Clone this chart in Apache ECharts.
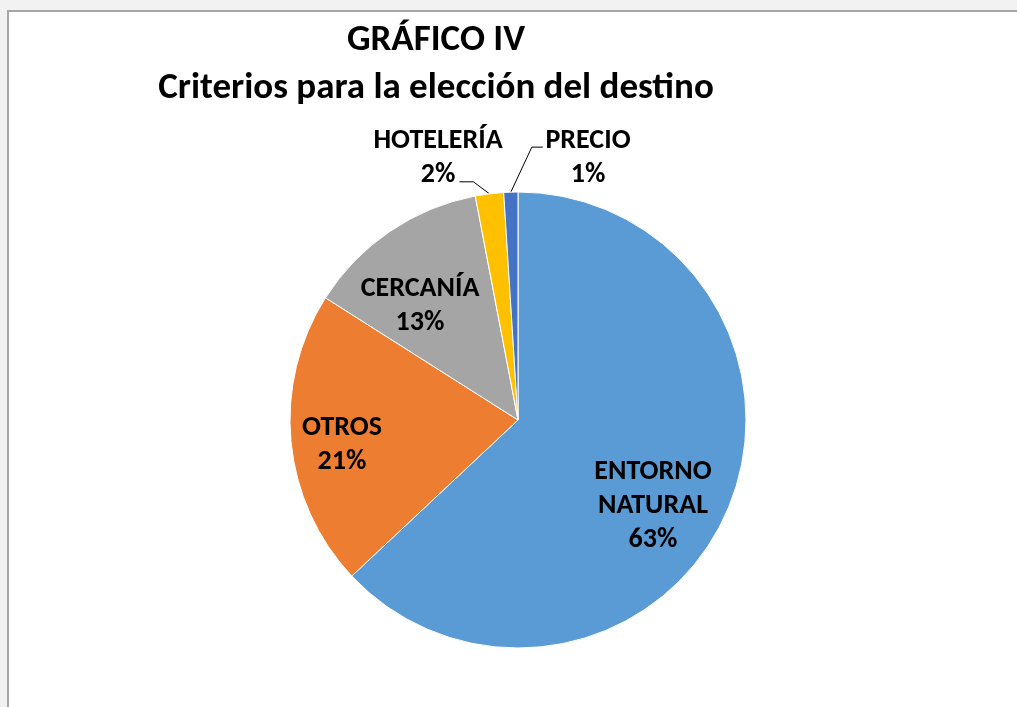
<!DOCTYPE html>
<html>
<head>
<meta charset="utf-8">
<script src="https://cdn.jsdelivr.net/npm/echarts@6/dist/echarts.min.js"></script>
<style>
  html, body { margin: 0; padding: 0; background: #f2f2f2; overflow: hidden; }
  .frame {
    position: absolute; left: 7px; top: 10px; width: 1010px; height: 697px;
    box-sizing: border-box; border-left: 2px solid #a6a6a6; border-top: 2px solid #a6a6a6;
    background: #fff;
  }
  #chart { width: 100%; height: 100%; }
</style>
</head>
<body>
<div class="frame"><div id="chart"></div></div>
<script>
const categories = ['ENTORNO NATURAL', 'OTROS', 'CERCANÍA', 'HOTELERÍA', 'PRECIO']
const percents = [63, 21, 13, 2, 1]
const colors = ['#5b9bd5', '#ed7d31', '#a5a5a5', '#ffc000', '#4472c4']
const outsideLabels = ['HOTELERÍA', 'PRECIO']

// pie geometry (px, inside the frame)
const cx = 509
const cy = 408
const radius = 228
// label anchor offsets from the pie centre, one per slice
const labelSpots = [[135, 86], [-176, 25], [-98, -114], [-80, -262], [70, -262]]
// leader line bends for the outside labels, relative to the slice edge
const leaderBends = {
  3: [[-16, -12], [-30, -12]],
  4: [[21, -45], [32, -45]],
}

const total = percents.reduce((a, b) => a + b, 0)
function midAngle(i) {
  const before = percents.slice(0, i).reduce((a, b) => a + b, 0)
  return ((before + percents[i] / 2) / total) * Math.PI * 2
}

const font = 'Carlito, Calibri, Lato, sans-serif'

const chart = echarts.init(document.getElementById('chart'))

chart.setOption({
  animation: false,
  title: {
    text: 'GRÁFICO IV\nCriterios para la elección del destino',
    left: 422,
    top: 0,
    textAlign: 'center',
    textStyle: {
      fontFamily: font,
      fontSize: 37,
      fontWeight: 'bold',
      color: '#000',
      lineHeight: 48,
    },
  },
  series: [
    {
      type: 'pie',
      center: [cx, cy],
      radius: radius,
      startAngle: 90,
      clockwise: true,
      avoidLabelOverlap: false,
      itemStyle: { borderColor: '#fff', borderWidth: 1 },
      label: {
        position: 'inside',
        fontFamily: font,
        fontSize: 28,
        fontWeight: 'bold',
        color: '#000',
        lineHeight: 34,
        formatter: (p) => p.name.replace(' ', '\n') + '\n' + p.value + '%',
      },
      labelLine: { show: false },
      labelLayout: (p) => {
        const i = p.dataIndex
        const s = labelSpots[i]
        const layout = { x: cx + s[0], y: cy + s[1], align: 'center', verticalAlign: 'middle' }
        if (leaderBends[i]) {
          const a = midAngle(i)
          const ex = cx + radius * Math.sin(a)
          const ey = cy - radius * Math.cos(a)
          layout.labelLinePoints = [[ex, ey]].concat(
            leaderBends[i].map((d) => [ex + d[0], ey + d[1]])
          )
        }
        return layout
      },
      data: categories.map((name, i) => {
        const outside = outsideLabels.includes(name)
        return {
          name,
          value: percents[i],
          itemStyle: { color: colors[i] },
          label: { position: outside ? 'outside' : 'inside' },
          labelLine: {
            show: outside,
            lineStyle: { color: '#000', width: 1 },
          },
        }
      }),
    },
  ],
})
</script>
</body>
</html>
